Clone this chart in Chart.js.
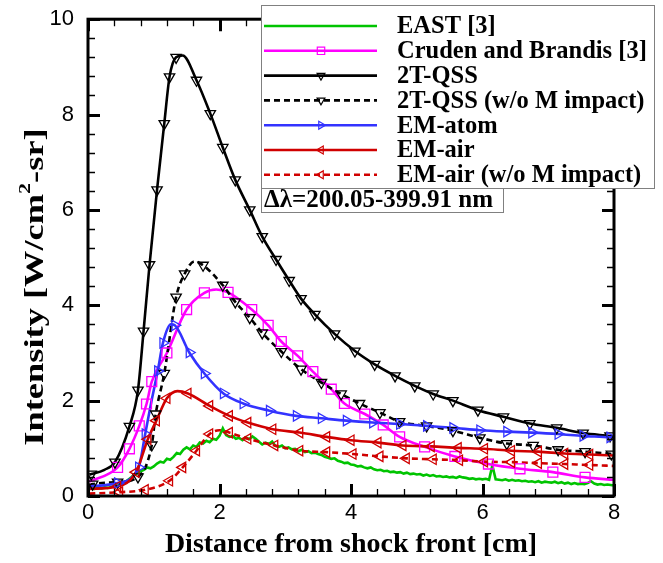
<!DOCTYPE html>
<html><head><meta charset="utf-8">
<script src="https://cdn.jsdelivr.net/npm/chart.js@4/dist/chart.umd.min.js"></script>
<style>html,body{margin:0;padding:0;background:#fff}#wrap{width:663px;height:563px;position:relative}</style>
</head><body><div id="wrap"><canvas id="c" width="663" height="563"></canvas></div>
<script>
// ---------- text ----------
const legendLabels=['EAST [3]','Cruden and Brandis [3]','2T-QSS','2T-QSS (w/o M impact)','EM-atom','EM-air','EM-air (w/o M impact)'];
const bandLabel='\u0394\u03bb=200.05-399.91 nm';
const xTitle='Distance from shock front [cm]';
const yTitleMain='Intensity [W/cm', yTitleSup='2', yTitleEnd='-sr]';
const xTickValues=[0,2,4,6,8];
const yTickValues=[0,2,4,6,8,10];

// ---------- EAST [3] (measured, step 0.05 cm from 0 to 8) ----------
const eastY=[0.15,0.16,0.15,0.17,0.16,0.18,0.17,0.19,0.2,0.22,0.24,
0.28,0.33,0.38,0.45,0.48,0.52,0.55,0.6,0.58,0.62,
0.68,0.72,0.7,0.78,0.76,0.82,0.9,0.88,0.97,1.02,
0.98,1.06,1.03,1.12,1.1,1.16,1.13,1.2,1.18,1.26,
1.42,1.28,1.24,1.26,1.2,1.22,1.17,1.23,1.19,1.25,
1.2,1.14,1.08,1.12,1.09,1.14,1.05,1.03,1.06,1.0,
1.02,0.98,0.99,0.94,0.97,0.92,0.94,0.9,0.91,0.88,
0.86,0.82,0.8,0.78,0.79,0.74,0.72,0.69,0.7,0.66,
0.65,0.62,0.63,0.6,0.58,0.6,0.56,0.54,0.55,0.52,
0.53,0.5,0.51,0.49,0.5,0.47,0.49,0.46,0.47,0.45,
0.46,0.43,0.45,0.42,0.44,0.41,0.42,0.4,0.41,0.39,
0.4,0.38,0.41,0.39,0.38,0.36,0.37,0.35,0.36,0.35,
0.36,0.34,0.64,0.35,0.34,0.33,0.35,0.32,0.34,0.32,
0.33,0.31,0.32,0.3,0.31,0.29,0.31,0.28,0.3,0.29,
0.28,0.3,0.27,0.29,0.26,0.28,0.25,0.27,0.25,0.26,
0.25,0.27,0.31,0.26,0.24,0.25,0.23,0.24,0.23,0.22];

// ---------- Cruden and Brandis [3] ----------
const crudenMarkX=[0.45,0.63,0.78,0.89,0.97,1.2,1.5,1.77,2.13,2.49,2.74,2.94,3.19,3.42,3.7,3.9,4.21,4.49,4.74,5.12,5.58,6.09,6.57,7.07,7.56];
const crudenMarkY=[0.6,0.99,1.47,1.93,2.4,3.0,3.91,4.26,4.27,3.91,3.58,3.24,2.94,2.61,2.24,1.94,1.72,1.49,1.24,1.03,0.83,0.67,0.57,0.5,0.39];
const crudenExtraX=[0.02,1.95,8.0];
const crudenExtraY=[0.3,4.33,0.34];

// ---------- 2T-QSS ----------
const qssMarkX=[0.05,0.41,0.63,0.76,0.845,0.936,1.05,1.16,1.24,1.34,1.65,1.86,2.05,2.24,2.46,2.65,2.86,3.06,3.24,3.45,3.75,4.06,4.36,4.67,4.97,5.25,5.55,5.93,6.32,6.72,7.13,7.53,7.94];
const qssMarkY=[0.46,0.71,1.46,2.22,3.46,4.85,6.42,7.81,8.79,9.2,8.72,8.02,7.31,6.63,6.0,5.44,4.96,4.52,4.14,3.81,3.40,3.04,2.76,2.52,2.31,2.14,2.0,1.80,1.66,1.52,1.43,1.32,1.26];
const qssExtraX=[0.02,0.25,1.44,8.0];
const qssExtraY=[0.45,0.55,9.24,1.25];

// ---------- 2T-QSS (w/o M impact) ----------
const qssNoMMarkX=[0.07,0.45,0.76,0.97,1.03,1.16,1.34,1.47,1.75,2.05,2.24,2.46,2.65,2.94,3.24,3.55,3.85,4.13,4.44,4.74,5.15,5.55,5.96,6.37,6.77,7.15,7.56,7.96];
const qssNoMMarkY=[0.25,0.29,0.4,1.07,1.72,2.57,4.17,4.66,4.84,4.42,4.07,3.74,3.42,3.03,2.66,2.38,2.14,1.94,1.75,1.56,1.47,1.37,1.22,1.10,1.06,0.97,0.93,0.88];
const qssNoMExtraX=[0.02,1.62,8.0];
const qssNoMExtraY=[0.22,4.92,0.87];

// ---------- EM-atom ----------
const atomMarkX=[0.45,0.77,0.87,1.06,1.14,1.32,1.54,1.77,2.06,2.36,2.76,3.17,3.55,3.93,4.33,4.74,5.15,5.55,5.96,6.37,6.75,7.15,7.53,7.94];
const atomMarkY=[0.27,0.6,1.3,2.62,3.21,3.58,3.01,2.57,2.15,1.94,1.79,1.68,1.63,1.58,1.54,1.51,1.47,1.43,1.38,1.35,1.33,1.30,1.26,1.23];
const atomExtraX=[0.02,0.96,1.26,8.0];
const atomExtraY=[0.2,1.95,3.6,1.22];

// ---------- EM-air ----------
const airMarkX=[0.45,0.73,0.91,1.04,1.2,1.52,1.85,2.15,2.43,2.81,3.22,3.63,4.0,4.41,4.79,5.22,5.63,6.03,6.44,6.85,7.25,7.63];
const airMarkY=[0.2,0.5,1.19,1.58,2.05,2.15,1.89,1.68,1.54,1.40,1.33,1.24,1.17,1.12,1.06,1.04,1.01,0.99,0.95,0.93,0.89,0.87];
const airExtraX=[0.02,1.36,8.0];
const airExtraY=[0.15,2.2,0.85];

// ---------- EM-air (w/o M impact) ----------
const airNoMMarkX=[0.48,0.87,1.24,1.44,1.65,1.85,2.15,2.43,2.84,3.22,3.63,4.03,4.44,4.84,5.25,5.65,6.03,6.44,6.85,7.25,7.63];
const airNoMMarkY=[0.08,0.13,0.32,0.6,0.95,1.3,1.33,1.2,1.06,0.95,0.92,0.88,0.83,0.79,0.77,0.75,0.72,0.71,0.69,0.67,0.65];
const airNoMExtraX=[0.02,2.0,8.0];
const airNoMExtraY=[0.05,1.38,0.63];

// ---------- helpers ----------
const pts=(xs,ys)=>xs.map((x,i)=>({x:x,y:ys[i]}));
const merged=(mx,my,ex,ey)=>pts(mx,my).concat(pts(ex,ey)).sort((a,b)=>a.x-b.x);
const eastPts=eastY.map((v,i)=>({x:+(i*0.05).toFixed(2),y:v}));

const GREEN='#00c400', MAG='#ff00ff', BLACK='#000000', BLUE='#3333ff', RED='#d00000';
const styles=[
 {color:GREEN,dash:[],marker:null},
 {color:MAG,dash:[],marker:{style:'rect',rot:0,r:7}},
 {color:BLACK,dash:[],marker:{style:'triangle',rot:180,r:6}},
 {color:BLACK,dash:[6,4],marker:{style:'triangle',rot:180,r:6}},
 {color:BLUE,dash:[],marker:{style:'triangle',rot:90,r:6}},
 {color:RED,dash:[],marker:{style:'triangle',rot:270,r:6}},
 {color:RED,dash:[6,4],marker:{style:'triangle',rot:270,r:6}}
];
const lineData=[eastPts,
 merged(crudenMarkX,crudenMarkY,crudenExtraX,crudenExtraY),
 merged(qssMarkX,qssMarkY,qssExtraX,qssExtraY),
 merged(qssNoMMarkX,qssNoMMarkY,qssNoMExtraX,qssNoMExtraY),
 merged(atomMarkX,atomMarkY,atomExtraX,atomExtraY),
 merged(airMarkX,airMarkY,airExtraX,airExtraY),
 merged(airNoMMarkX,airNoMMarkY,airNoMExtraX,airNoMExtraY)];
const markData=[null,pts(crudenMarkX,crudenMarkY),pts(qssMarkX,qssMarkY),pts(qssNoMMarkX,qssNoMMarkY),
 pts(atomMarkX,atomMarkY),pts(airMarkX,airMarkY),pts(airNoMMarkX,airNoMMarkY)];

const datasets=[];
lineData.forEach((d,i)=>{
  const s=styles[i];
  datasets.push({label:legendLabels[i],data:d,borderColor:s.color,borderWidth:i===0?2.6:2.6,borderDash:s.dash,
    pointRadius:0,fill:false,tension:0,cubicInterpolationMode:i===0?'default':'monotone',order:20-i});
});
markData.forEach((d,i)=>{
  if(!d) return;
  const s=styles[i];
  datasets.push({label:legendLabels[i]+' markers',data:d,showLine:false,borderColor:s.color,backgroundColor:'rgba(0,0,0,0)',
    pointStyle:s.marker.style,rotation:s.marker.rot,pointRadius:s.marker.r,pointBorderWidth:1.3,order:5-i});
});

const SERIF='"Liberation Serif","Times New Roman",serif';
const SANS='"Liberation Sans",Arial,sans-serif';

const framePlugin={id:'frame',afterDatasetsDraw(chart){
  const {ctx,chartArea:a,scales:{x,y}}=chart;
  ctx.save(); ctx.strokeStyle='#000'; ctx.setLineDash([]);
  for(let i=0;i<=20;i++){const v=i*0.4;const px=Math.round(x.getPixelForValue(v))+0.5;const maj=i%5===0;
    ctx.lineWidth=maj?3:1.3;const L=maj?12:7;
    ctx.beginPath();ctx.moveTo(px,a.bottom);ctx.lineTo(px,a.bottom-L);ctx.moveTo(px,a.top);ctx.lineTo(px,a.top+L);ctx.stroke();}
  for(let i=0;i<=25;i++){const v=i*0.4;const py=Math.round(y.getPixelForValue(v))+0.5;const maj=i%5===0;
    ctx.lineWidth=maj?3:1.3;const L=maj?12:7;
    ctx.beginPath();ctx.moveTo(a.left,py);ctx.lineTo(a.left+L,py);ctx.moveTo(a.right,py);ctx.lineTo(a.right-L,py);ctx.stroke();}
  ctx.lineWidth=3; ctx.strokeRect(a.left,a.top,a.right-a.left,a.bottom-a.top);
  ctx.restore();
}};

const decorPlugin={id:'decor',afterDraw(chart){
  const ctx=chart.ctx; const a=chart.chartArea;
  ctx.save();
  // x title
  ctx.fillStyle='#000'; ctx.font='bold 28px '+SERIF; ctx.textAlign='center'; ctx.textBaseline='middle';
  ctx.fillText(xTitle,(a.left+a.right)/2,545);
  // y title (stretched along its length as in the original)
  ctx.translate(36,287); ctx.rotate(-Math.PI/2); ctx.scale(1.3,1);
  ctx.font='bold 28px '+SERIF;
  const w1=ctx.measureText(yTitleMain).width; ctx.font='bold 17px '+SERIF; const w2=ctx.measureText(yTitleSup).width;
  ctx.font='bold 28px '+SERIF; const w3=ctx.measureText(yTitleEnd).width;
  let sx=-(w1+w2+w3)/2; ctx.textAlign='left';
  ctx.fillText(yTitleMain,sx,0); sx+=w1;
  ctx.font='bold 17px '+SERIF; ctx.fillText(yTitleSup,sx,-10); sx+=w2;
  ctx.font='bold 28px '+SERIF; ctx.fillText(yTitleEnd,sx,0);
  ctx.restore();
  // legend
  ctx.save();
  ctx.fillStyle='#fff'; ctx.fillRect(261,5,393,183);
  ctx.strokeStyle='#808080'; ctx.lineWidth=1; ctx.strokeRect(261.5,5.5,393,183);
  legendLabels.forEach((lab,i)=>{
    const s=styles[i]; const yy=26+i*24.8;
    ctx.strokeStyle=s.color; ctx.lineWidth=2.6; ctx.setLineDash(s.dash);
    ctx.beginPath(); ctx.moveTo(264,yy); ctx.lineTo(377,yy); ctx.stroke(); ctx.setLineDash([]);
    if(s.marker){ctx.fillStyle='rgba(0,0,0,0)';ctx.strokeStyle=s.color;ctx.lineWidth=1.2;
      Chart.helpers.drawPoint(ctx,{pointStyle:s.marker.style,rotation:s.marker.rot,radius:s.marker.r*0.75,borderWidth:1.2},321,yy);}
    ctx.fillStyle='#000'; ctx.font='bold 24.5px '+SERIF; ctx.textAlign='left'; ctx.textBaseline='middle';
    ctx.fillText(lab,397,yy+1);
  });
  ctx.fillStyle='#fff'; ctx.fillRect(261,188,242,24);
  ctx.strokeStyle='#808080'; ctx.lineWidth=1; ctx.strokeRect(261.5,188.5,242,24);
  ctx.fillStyle='#000'; ctx.font='bold 25px '+SERIF; ctx.textAlign='left'; ctx.textBaseline='middle';
  ctx.fillText(bandLabel,264,201);
  ctx.restore();
}};

new Chart(document.getElementById('c'),{
  type:'line',
  data:{datasets:datasets},
  options:{
    responsive:false,animation:false,
    layout:{padding:{top:16,right:49,left:0,bottom:0}},
    plugins:{legend:{display:false},tooltip:{enabled:false}},
    elements:{line:{borderCapStyle:'butt'}},
    scales:{
      x:{type:'linear',min:0,max:8,
        afterBuildTicks:s=>{s.ticks=xTickValues.map(v=>({value:v}));},
        afterFit:s=>{s.height=67;},
        grid:{display:false},border:{display:false},
        ticks:{color:'#000',font:{family:SANS,size:22},padding:-4,maxRotation:0}},
      y:{type:'linear',min:0,max:10,
        afterBuildTicks:s=>{s.ticks=yTickValues.map(v=>({value:v}));},
        afterFit:s=>{s.width=88;},
        grid:{display:false},border:{display:false},
        ticks:{color:'#000',font:{family:SANS,size:22},padding:6}}
    }
  },
  plugins:[framePlugin,decorPlugin]
});
</script></body></html>
